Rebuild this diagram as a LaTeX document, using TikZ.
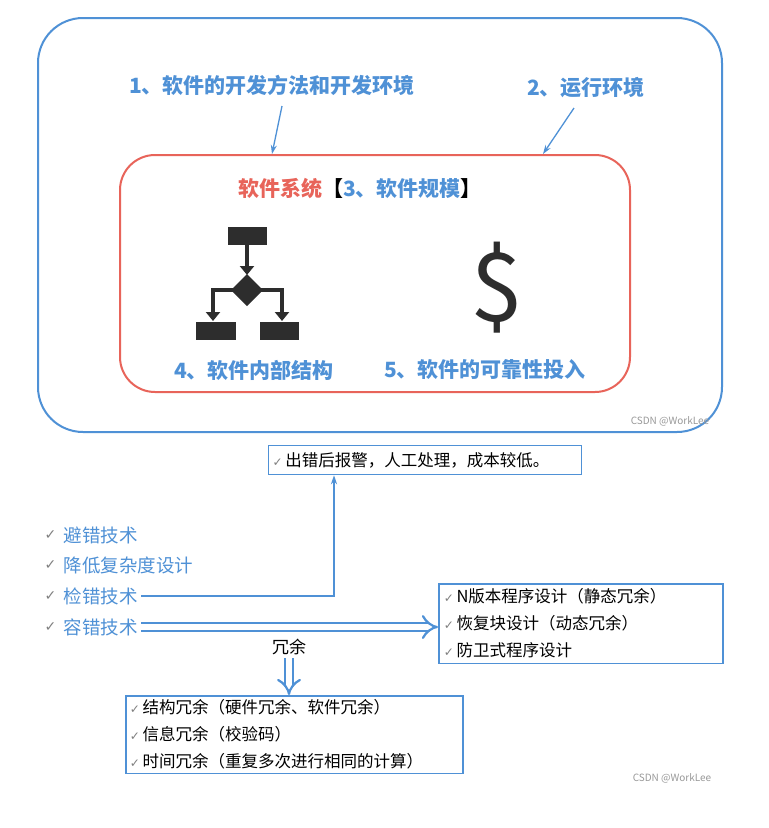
\documentclass[tikz,border=0pt]{standalone}
\usepackage{fontspec}
\setmainfont{Noto Sans CJK SC}
\newfontfamily\symfont{DejaVu Sans}
\usetikzlibrary{arrows.meta}
\usetikzlibrary{positioning}
\definecolor{lblue}{RGB}{79, 145, 214}
\definecolor{lred}{RGB}{232, 100, 90}
\definecolor{icon}{RGB}{45, 45, 45}
\tikzset{
  x=1pt, y=-1pt,
  title/.style={font=\fontsize{21}{24}\selectfont\bfseries, text=lblue},
  item/.style={font=\fontsize{18.5}{22}\selectfont, text=lblue, anchor=west},
  tick/.style={font=\symfont\fontsize{14}{16}\selectfont, text=gray, anchor=east},
  boxline/.style={font=\fontsize{16.5}{27}\selectfont, anchor=west},
  frame/.style={draw=lblue, line width=1.5pt},
  arrow/.style={-{Stealth[length=9pt,width=6pt]}, draw=lblue, line width=1.3pt},
  dblarrow/.style={draw=lblue, double=white, double distance=6pt, line width=2.2pt, -{Implies[scale=1.3]}},
  watermark/.style={font=\fontsize{10}{12}\selectfont, text=gray!80}
}
\newcommand{\chk}{{\symfont\color{gray}\fontsize{12}{14}\selectfont ✓}\,}
\begin{document}
\begin{tikzpicture}
  \useasboundingbox[fill=white] (0,0) rectangle (769,828);
  % outer and inner frames
  \draw[draw=lblue, line width=2pt, rounded corners=45pt] (38,18) rectangle (722,432);
  \draw[draw=lred, line width=2pt, rounded corners=35pt] (120,155) rectangle (630,392);
  \node[title] (dev) at (272,85) {1、软件的开发方法和开发环境};
  \node[title] (run) at (586,88) {2、运行环境};
  \coordinate (devend) at (272,154);
  \coordinate (runend) at (543,154);
  \draw[arrow] (282,106) -- (devend);
  \draw[arrow] (574,108) -- (runend);
  \node[font=\fontsize{21}{24}\selectfont\bfseries] (sys) at (360,188)
    {\color{lred}软件系统\color{black}【\color{lblue}3、软件规模\color{black}】};
  % flowchart icon
  \fill[icon] (228,227) rectangle (267,245);
  \fill[icon] (247,274) -- (263,290) -- (247,306) -- (231,290) -- cycle;
  \draw[icon, line width=4.5pt, -{Triangle[width=14pt,length=9pt]}] (247,245) -- (247,275);
  \draw[icon, line width=4.5pt, -{Triangle[width=14pt,length=9pt]}] (234,290) -- (213,290) -- (213,321);
  \draw[icon, line width=4.5pt, -{Triangle[width=14pt,length=9pt]}] (260,290) -- (282,290) -- (282,321);
  \fill[icon] (196,322) rectangle (236,340);
  \fill[icon] (260,322) rectangle (299,340);
  \node[font=\fontsize{95}{95}\selectfont, text=icon] (dollar) at (497,288) {\$};
  \node[title] (inner) at (254,370) {4、软件内部结构};
  \node[title] (cost) at (485,370) {5、软件的可靠性投入};
  \node[watermark] (wm1) at (670,421) {CSDN @WorkLee};
  % fault handling
  \node[frame, boxline, anchor=center, minimum height=29pt, text width=305pt, inner sep=4pt] (alarm) at (425,460)
    {\chk 出错后报警，人工处理，成本较低。};
  \node[item] (avoid) at (60,535) {避错技术};
  \node[item] (simple) at (60,565) {降低复杂度设计};
  \node[item] (detect) at (60,596) {检错技术};
  \node[item] (tol) at (60,627) {容错技术};
  \foreach \n in {avoid, simple, detect, tol}
    \node[tick] at (\n.west) {✓};
  \draw[arrow] (detect.east) -- (334,596) -- (alarm.south -| 334,0);
  \node[frame, boxline, anchor=north west, text width=274pt, inner sep=5pt, align=left] (static) at (438,583)
    {\chk N版本程序设计（静态冗余）\\\chk 恢复块设计（动态冗余）\\\chk 防卫式程序设计};
  \draw[dblarrow] (tol.east) -- (static.west |- tol.east);
  \node[font=\fontsize{17}{20}\selectfont] (red) at (289,647) {冗余};
  \node[frame, boxline, anchor=north west, text width=329pt, inner sep=4pt, align=left] (redund) at (125,695)
    {\chk 结构冗余（硬件冗余、软件冗余）\\\chk 信息冗余（校验码）\\\chk 时间冗余（重复多次进行相同的计算）};
  \draw[dblarrow] (red.south) -- (redund.north -| red.south);
  \node[watermark] (wm2) at (672,778) {CSDN @WorkLee};
\end{tikzpicture}
\end{document}
